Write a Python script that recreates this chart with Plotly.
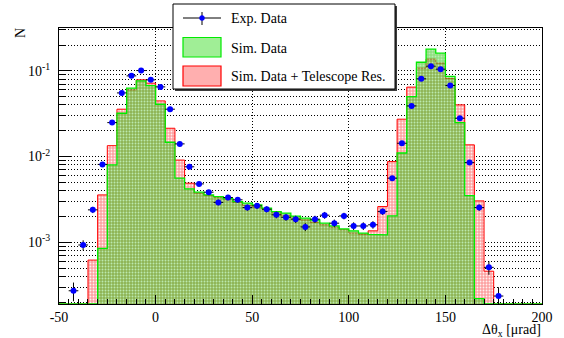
import plotly.graph_objects as go

# ---------------- data ----------------
bin_width = 5
bin_left = list(range(-35, 180, 5))  # left edges of histogram bins
sim_data = [0, 8.5e-4, 8.0e-3, 0.032, 0.0628, 0.0764, 0.0674, 0.0408, 0.0147, 5.6e-3,
            4.2e-3, 3.84e-3, 3.57e-3, 3.41e-3, 3.23e-3, 2.98e-3, 2.86e-3, 2.73e-3, 2.50e-3, 2.28e-3,
            2.19e-3, 2.02e-3, 1.91e-3, 1.82e-3, 1.67e-3, 1.55e-3, 1.43e-3, 1.36e-3, 1.28e-3, 1.24e-3,
            1.22e-3, 2.03e-3, 0.011, 0.0501, 0.126, 0.179, 0.161, 0.086, 0.0249, 3.5e-3,
            2.2e-4, 0, 0]
sim_tel = [6.2e-4, 3.57e-3, 0.0134, 0.0357, 0.060, 0.0785, 0.0718, 0.0446, 0.0214, 9.1e-3,
           4.89e-3, 3.74e-3, 3.51e-3, 3.33e-3, 3.13e-3, 2.91e-3, 2.69e-3, 2.57e-3, 2.44e-3, 2.22e-3,
           2.05e-3, 1.91e-3, 1.82e-3, 1.71e-3, 1.60e-3, 1.50e-3, 1.40e-3, 1.28e-3, 1.24e-3, 1.36e-3,
           2.61e-3, 8.74e-3, 0.0273, 0.0646, 0.1076, 0.137, 0.123, 0.0813, 0.0401, 0.0137,
           3.04e-3, 4.6e-4, 0]

exp_x = [-42.5, -37.5, -32.5, -27.5, -22.5, -17.5, -12.5, -7.5, -2.5, 2.5,
         7.5, 12.5, 17.5, 22.5, 27.5, 32.5, 37.5, 42.5, 47.5, 52.5,
         57.5, 62.5, 67.5, 72.5, 77.5, 82.5, 87.5, 92.5, 97.5, 102.5,
         107.5, 112.5, 117.5, 122.5, 127.5, 132.5, 137.5, 142.5, 147.5, 152.5,
         157.5, 162.5, 167.5, 172.5, 177.5]
exp_y = [2.72e-4, 9.3e-4, 2.39e-3, 8.1e-3, 0.0249, 0.0553, 0.0874, 0.1008, 0.0785, 0.065,
         0.0357, 0.01406, 7.6e-3, 4.8e-3, 3.84e-3, 2.92e-3, 3.33e-3, 3.13e-3, 2.54e-3, 2.66e-3,
         2.43e-3, 2.09e-3, 1.96e-3, 1.86e-3, 1.51e-3, 1.86e-3, 2.07e-3, 1.67e-3, 2.03e-3, 1.55e-3,
         1.55e-3, 1.60e-3, 2.28e-3, 5.6e-3, 0.0143, 0.039, 0.0807, 0.1135, 0.1047, 0.0674,
         0.028, 8.5e-3, 2.54e-3, 5.1e-4, 2.36e-4]
exp_err = [6.7e-5, 1.25e-4, 2.0e-4, 3.7e-4, 6.4e-4, 9.6e-4, 1.2e-3, 1.3e-3, 1.14e-3, 1.04e-3,
           7.7e-4, 4.8e-4, 3.6e-4, 2.8e-4, 2.5e-4, 2.2e-4, 2.4e-4, 2.3e-4, 2.1e-4, 2.1e-4,
           2.0e-4, 1.9e-4, 1.8e-4, 1.8e-4, 1.6e-4, 1.8e-4, 1.9e-4, 1.7e-4, 1.8e-4, 1.6e-4,
           1.6e-4, 1.6e-4, 1.9e-4, 3.1e-4, 4.9e-4, 8.1e-4, 1.16e-3, 1.4e-3, 1.3e-3, 1.06e-3,
           6.8e-4, 3.8e-4, 2.1e-4, 9.2e-5, 6.3e-5]

x_tickvals = [-50, 0, 50, 100, 150, 200]
x_ticktext = ["-50", "0", "50", "100", "150", "200"]
y_tickvals = [1e-3, 1e-2, 1e-1]
y_ticktext = ["10<sup>-3</sup>", "10<sup>-2</sup>", "10<sup>-1</sup>"]

x_range = [-50, 200]
y_log_range = [-3.72, -0.5]
base = 10 ** y_log_range[0]

FONT = "Liberation Serif"


def step_outline(vals):
    xs = [x_range[0], bin_left[0]]
    ys = [base, base]
    for left, v in zip(bin_left, vals):
        y = v if v > 0 else base
        xs += [left, left + bin_width]
        ys += [y, y]
    xs += [bin_left[-1] + bin_width, x_range[1]]
    ys += [base, base]
    return xs, ys


fig = go.Figure()

rx, ry = step_outline(sim_tel)
fig.add_trace(go.Scatter(
    x=rx, y=ry, mode="lines", fill="toself",
    line=dict(color="rgb(255,0,0)", width=1),
    fillcolor="rgb(255,170,170)",
    fillpattern=dict(shape=".", bgcolor="rgb(252,160,160)", fgcolor="rgba(255,255,255,0.85)",
                     size=3, solidity=0.3, fillmode="replace"),
    showlegend=False, hoverinfo="skip"))

gx, gy = step_outline(sim_data)
fig.add_trace(go.Scatter(
    x=gx, y=gy, mode="lines", fill="toself",
    line=dict(color="rgb(0,235,0)", width=1.3),
    fillcolor="rgba(30,190,0,0.5)",
    fillpattern=dict(shape=".", bgcolor="rgba(40,195,10,0.52)", fgcolor="rgba(255,255,255,0.4)",
                     size=3, solidity=0.3, fillmode="replace"),
    showlegend=False, hoverinfo="skip"))

fig.add_trace(go.Scatter(
    x=exp_x, y=exp_y, mode="markers",
    marker=dict(color="rgb(0,0,255)", size=6, symbol="circle"),
    error_y=dict(type="data", array=exp_err, color="black", thickness=1, width=0),
    error_x=dict(type="constant", value=bin_width / 2, color="black", thickness=1, width=0),
    showlegend=False, hoverinfo="skip"))

# ---------------- layout ----------------
L, R, T, B = 59, 22, 28, 34
W, H = 564, 338
PW, PH = W - L - R, H - T - B


def px(xp):
    return (xp - L) / PW


def py(yp):
    return (H - B - yp) / PH


minor_y = [m * 10 ** e for e in (-4, -3, -2, -1) for m in range(2, 10)]
minor_y = [v for v in minor_y if 10 ** y_log_range[0] < v < 10 ** y_log_range[1]]

fig.update_layout(
    width=W, height=H,
    margin=dict(l=L, r=R, t=T, b=B),
    paper_bgcolor="white", plot_bgcolor="white",
    font=dict(family=FONT, size=14, color="black"),
    xaxis=dict(
        range=x_range, tickvals=x_tickvals, ticktext=x_ticktext,
        ticks="inside", ticklen=9, tickcolor="black", tickwidth=1,
        showline=True, linecolor="black", linewidth=1, mirror=True,
        showgrid=True, gridcolor="black", gridwidth=1, griddash="1px,2px",
        zeroline=False,
        tickfont=dict(family=FONT, size=14),
        minor=dict(dtick=5, tick0=0, ticks="inside", ticklen=5, tickcolor="black", showgrid=False),
    ),
    yaxis=dict(
        type="log", range=y_log_range,
        tickvals=y_tickvals, ticktext=y_ticktext,
        ticks="inside", ticklen=13, tickcolor="black", tickwidth=1,
        showline=True, linecolor="black", linewidth=1, mirror=True,
        showgrid=True, gridcolor="black", gridwidth=1, griddash="1px,2px",
        zeroline=False,
        tickfont=dict(family=FONT, size=14),
        ticklabelstandoff=5,
        minor=dict(tickvals=minor_y, ticks="inside", ticklen=6, tickcolor="black",
                   showgrid=True, gridcolor="black", gridwidth=1, griddash="1px,2px"),
    ),
)

shapes = []
annotations = []

# legend box (with shadow)
lx0, ly0, lx1, ly1 = 173, 4, 395, 89
shapes.append(dict(type="rect", xref="paper", yref="paper",
                   x0=px(lx0 + 2), x1=px(lx1 + 2), y0=py(ly1 + 2), y1=py(ly0 + 2),
                   fillcolor="rgb(60,60,60)", line=dict(width=0), layer="above"))
shapes.append(dict(type="rect", xref="paper", yref="paper",
                   x0=px(lx0), x1=px(lx1), y0=py(ly1), y1=py(ly0),
                   fillcolor="white", line=dict(color="black", width=1), layer="above"))
# entry 1: data marker
shapes.append(dict(type="line", xref="paper", yref="paper",
                   x0=px(183), x1=px(221), y0=py(18), y1=py(18),
                   line=dict(color="black", width=1), layer="above"))
shapes.append(dict(type="line", xref="paper", yref="paper",
                   x0=px(202), x1=px(202), y0=py(12), y1=py(25),
                   line=dict(color="black", width=1), layer="above"))
shapes.append(dict(type="circle", xref="paper", yref="paper",
                   x0=px(199.5), x1=px(204.5), y0=py(20.5), y1=py(15.5),
                   fillcolor="rgb(0,0,255)", line=dict(color="rgb(0,0,255)", width=0.5), layer="above"))
# entry 2: green box
shapes.append(dict(type="rect", xref="paper", yref="paper",
                   x0=px(183), x1=px(221), y0=py(57), y1=py(37.5),
                   fillcolor="rgb(160,238,150)", line=dict(color="rgb(0,235,0)", width=1.2), layer="above"))
# entry 3: red box
shapes.append(dict(type="rect", xref="paper", yref="paper",
                   x0=px(183), x1=px(221), y0=py(86), y1=py(66),
                   fillcolor="rgb(255,175,175)", line=dict(color="rgb(255,0,0)", width=1.2), layer="above"))

legend_labels = ["Exp. Data", "Sim. Data", "Sim. Data + Telescope Res."]
legend_y = [18, 48.5, 76]
for lab, yy in zip(legend_labels, legend_y):
    annotations.append(dict(text=lab, xref="paper", yref="paper", x=px(229), y=py(yy),
                            xanchor="left", yanchor="middle", showarrow=False,
                            font=dict(family=FONT, size=14, color="black")))

# axis titles
annotations.append(dict(text="Δθ<sub>x</sub> [μrad]", xref="paper", yref="paper",
                        x=px(543), y=py(330.5), xanchor="right", yanchor="middle", showarrow=False,
                        font=dict(family=FONT, size=14, color="black")))
annotations.append(dict(text="N", xref="paper", yref="paper", textangle=-90,
                        x=px(21), y=py(33), xanchor="center", yanchor="middle", showarrow=False,
                        font=dict(family=FONT, size=14, color="black")))

fig.update_layout(shapes=shapes, annotations=annotations)

fig.write_html("out.html")
